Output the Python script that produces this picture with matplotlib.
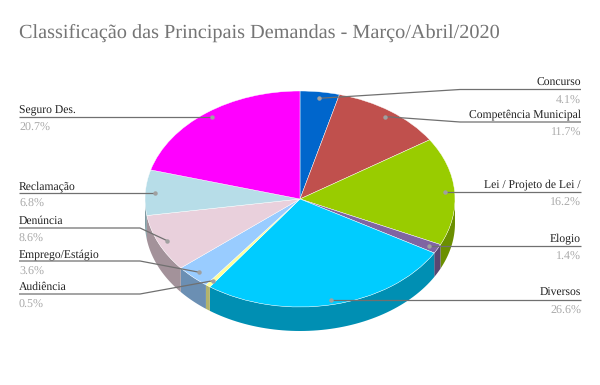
import numpy as np
import matplotlib
matplotlib.use('Agg')
import matplotlib.pyplot as plt
from matplotlib.colors import to_rgb

plt.rcParams['font.family'] = ['Liberation Serif', 'DejaVu Serif']
plt.rcParams['text.hinting'] = 'none'

categories = ['Concurso', 'Competência Municipal', 'Lei / Projeto de Lei /', 'Elogio', 'Diversos',
              'Audiência', 'Emprego/Estágio', 'Denúncia', 'Reclamação', 'Seguro Des.']
shares = [4.1, 11.7, 16.2, 1.4, 26.6, 0.5, 3.6, 8.6, 6.8, 20.7]
colors = ['#0066cc', '#c0504d', '#99cc00', '#8064a2', '#00ccff',
          '#ffff99', '#99ccff', '#e9d0dc', '#b7dde8', '#ff00ff']
title = 'Classificação das Principais Demandas - Março/Abril/2020'

# layout, in pixels of the 600x385 image
W, H = 600, 385
CX, CY, RX, RY, DEPTH = 300, 199, 155, 108, 24
label_y = [89.5, 122, 192, 246, 299.5, 294, 261, 228, 193, 117]
elbow_x = [460, 460, None, None, None, 140, 140, 140, None, None]
LEFT_X, RIGHT_X = 19, 581

fig = plt.figure(figsize=(W / 100, H / 100), dpi=100)

# pie axes: one unit is RX wide and RY tall, so the circle comes out as the tilted ellipse
ax = fig.add_axes([0, 0, 1, 1])
ax.pie(shares, colors=colors, startangle=90, counterclock=False, radius=1,
       wedgeprops=dict(edgecolor='#ffffff', linewidth=0.3, zorder=3))
ax.set_aspect('auto')
ax.set_xlim(-CX / RX, (W - CX) / RX)
ax.set_ylim((CY - H) / RY, CY / RY)

edges = np.concatenate([[0], np.cumsum(shares)]) / sum(shares) * 2 * np.pi

# side wall of the front half, each slice in a darker shade
for a0, a1, c in zip(edges[:-1], edges[1:], colors):
    lo, hi = max(a0, np.pi / 2), min(a1, 3 * np.pi / 2)
    if hi <= lo:
        continue
    t = np.linspace(lo, hi, 60)
    x, y = np.sin(t), np.cos(t)
    d = DEPTH / RY
    px = np.concatenate([x, x[::-1]])
    py = np.concatenate([y, y[::-1] - d])
    ax.fill(px, py, color=tuple(v * 0.7 for v in to_rgb(c)), lw=0, zorder=1)

# overlay axes in pixels for the texts and leader lines
ov = fig.add_axes([0, 0, 1, 1])
ov.set_xlim(0, W)
ov.set_ylim(H, 0)
ov.axis('off')
ov.patch.set_alpha(0)

ov.text(19, 32.5, title, fontsize=14.6, color='#757575', va='center', ha='left')

mids = (edges[:-1] + edges[1:]) / 2
for name, share, a, ly, ex in zip(categories, shares, mids, label_y, elbow_x):
    dx = CX + 0.94 * RX * np.sin(a)
    dy = CY - 0.94 * RY * np.cos(a)
    right = np.sin(a) > 0
    tx = RIGHT_X if right else LEFT_X
    ha = 'right' if right else 'left'
    if ex is None:
        # straight leader, the dot sits on the label line
        dy = ly
        xs, ys = [tx, dx], [ly, ly]
    else:
        xs, ys = [tx, ex, dx], [ly, ly, dy]
    ov.plot(xs, ys, color='#707070', lw=0.9, solid_capstyle='butt', zorder=4)
    ov.plot([dx], [dy], 'o', color='#a0a0a0', ms=3.2, mew=0, zorder=5)
    ov.text(tx, ly - 1.5, name, fontsize=8.4, color='#222222', ha=ha, va='bottom')
    ov.text(tx, ly + 5.5, '%.1f%%' % share, fontsize=8.64, color='#aaaaaa', ha=ha, va='top')

fig.savefig('out.png', dpi=100)
